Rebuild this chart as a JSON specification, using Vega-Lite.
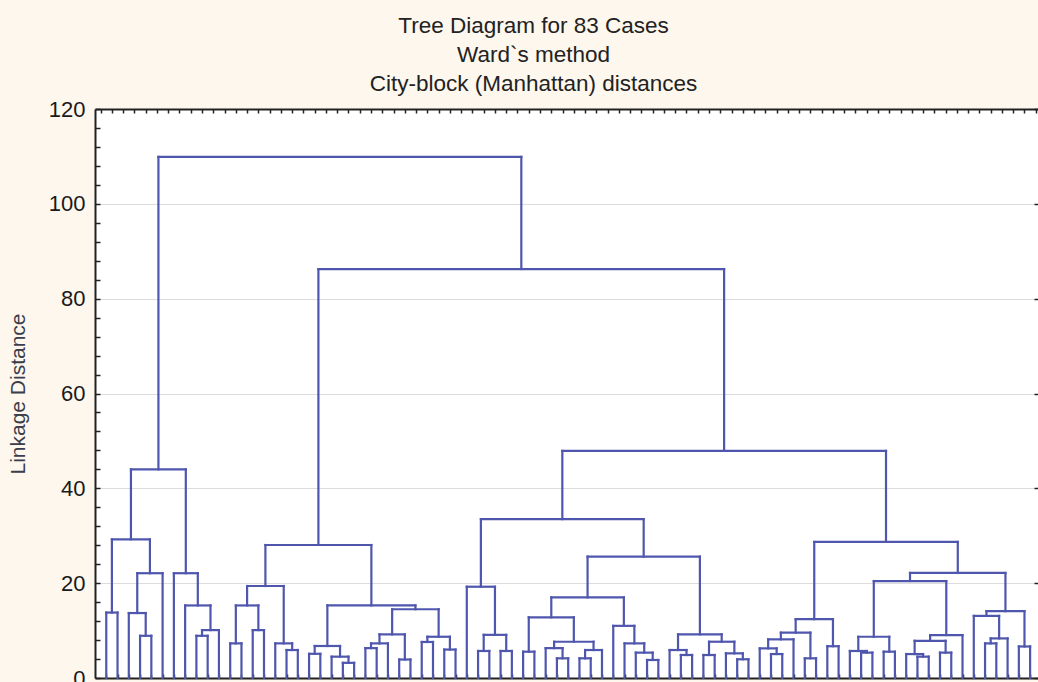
{
  "$schema": "https://vega.github.io/schema/vega-lite/v6.json",
  "width": 943,
  "height": 569,
  "autosize": {"type": "none"},
  "padding": {"left": 95, "top": 109, "right": 0, "bottom": 4},
  "background": "#fdf7ed",
  "config": {
    "view": {"fill": "white", "stroke": null},
    "axis": {"labelFont": "Liberation Sans", "titleFont": "Liberation Sans"}
  },
  "title": {
    "text": ["Tree Diagram for 83 Cases", "Ward`s method", "City-block (Manhattan) distances"],
    "font": "Liberation Sans",
    "fontSize": 22.5,
    "fontWeight": "normal",
    "color": "#222222",
    "lineHeight": 29,
    "anchor": "middle",
    "frame": "group",
    "dx": -33,
    "offset": 3
  },
  "data": {
    "values": [
      {"xl":1,"xr":2,"hl":0,"hr":0,"h":13.8},
      {"xl":4,"xr":5,"hl":0,"hr":0,"h":8.9},
      {"xl":3,"xr":4.5,"hl":0,"hr":8.9,"h":13.7},
      {"xl":3.75,"xr":6,"hl":13.7,"hr":0,"h":22.1},
      {"xl":1.5,"xr":4.875,"hl":13.8,"hr":22.1,"h":29.25},
      {"xl":9,"xr":10,"hl":0,"hr":0,"h":8.9},
      {"xl":9.5,"xr":11,"hl":8.9,"hr":0,"h":10.1},
      {"xl":8,"xr":10.25,"hl":0,"hr":10.1,"h":15.3},
      {"xl":7,"xr":9.125,"hl":0,"hr":15.3,"h":22.1},
      {"xl":3.19,"xr":8.06,"hl":29.25,"hr":22.1,"h":44.0},
      {"xl":12,"xr":13,"hl":0,"hr":0,"h":7.3},
      {"xl":14,"xr":15,"hl":0,"hr":0,"h":10.1},
      {"xl":12.5,"xr":14.5,"hl":7.3,"hr":10.1,"h":15.3},
      {"xl":17,"xr":18,"hl":0,"hr":0,"h":5.9},
      {"xl":16,"xr":17.5,"hl":0,"hr":5.9,"h":7.3},
      {"xl":13.5,"xr":16.75,"hl":15.3,"hr":7.3,"h":19.4},
      {"xl":19,"xr":20,"hl":0,"hr":0,"h":5.1},
      {"xl":22,"xr":23,"hl":0,"hr":0,"h":3.2},
      {"xl":21,"xr":22.5,"hl":0,"hr":3.2,"h":4.5},
      {"xl":19.5,"xr":21.75,"hl":5.1,"hr":4.5,"h":6.75},
      {"xl":24,"xr":25,"hl":0,"hr":0,"h":6.3},
      {"xl":24.5,"xr":26,"hl":6.3,"hr":0,"h":7.3},
      {"xl":27,"xr":28,"hl":0,"hr":0,"h":3.9},
      {"xl":25.25,"xr":27.5,"hl":7.3,"hr":3.9,"h":9.2},
      {"xl":29,"xr":30,"hl":0,"hr":0,"h":7.6},
      {"xl":31,"xr":32,"hl":0,"hr":0,"h":6.0},
      {"xl":29.5,"xr":31.5,"hl":7.6,"hr":6.0,"h":8.7},
      {"xl":26.375,"xr":30.5,"hl":9.2,"hr":8.7,"h":14.5},
      {"xl":20.625,"xr":28.44,"hl":6.75,"hr":14.5,"h":15.3},
      {"xl":15.125,"xr":24.53,"hl":19.4,"hr":15.3,"h":28.05},
      {"xl":34,"xr":35,"hl":0,"hr":0,"h":5.7},
      {"xl":36,"xr":37,"hl":0,"hr":0,"h":5.7},
      {"xl":34.5,"xr":36.5,"hl":5.7,"hr":5.7,"h":9.1},
      {"xl":33,"xr":35.5,"hl":0,"hr":9.1,"h":19.25},
      {"xl":38,"xr":39,"hl":0,"hr":0,"h":5.55},
      {"xl":41,"xr":42,"hl":0,"hr":0,"h":4.15},
      {"xl":40,"xr":41.5,"hl":0,"hr":4.15,"h":6.3},
      {"xl":43,"xr":44,"hl":0,"hr":0,"h":4.15},
      {"xl":43.5,"xr":45,"hl":4.15,"hr":0,"h":5.9},
      {"xl":40.75,"xr":44.25,"hl":6.3,"hr":5.9,"h":7.65},
      {"xl":38.5,"xr":42.5,"hl":5.55,"hr":7.65,"h":12.8},
      {"xl":49,"xr":50,"hl":0,"hr":0,"h":3.8},
      {"xl":48,"xr":49.5,"hl":0,"hr":3.8,"h":5.35},
      {"xl":47,"xr":48.75,"hl":0,"hr":5.35,"h":7.3},
      {"xl":46,"xr":47.875,"hl":0,"hr":7.3,"h":11.0},
      {"xl":40.5,"xr":46.94,"hl":12.8,"hr":11.0,"h":17.0},
      {"xl":52,"xr":53,"hl":0,"hr":0,"h":4.85},
      {"xl":51,"xr":52.5,"hl":0,"hr":4.85,"h":5.9},
      {"xl":54,"xr":55,"hl":0,"hr":0,"h":4.85},
      {"xl":57,"xr":58,"hl":0,"hr":0,"h":3.95},
      {"xl":56,"xr":57.5,"hl":0,"hr":3.95,"h":5.2},
      {"xl":54.5,"xr":56.75,"hl":4.85,"hr":5.2,"h":7.65},
      {"xl":51.75,"xr":55.625,"hl":5.9,"hr":7.65,"h":9.2},
      {"xl":43.72,"xr":53.69,"hl":17.0,"hr":9.2,"h":25.6},
      {"xl":34.25,"xr":48.7,"hl":19.25,"hr":25.6,"h":33.5},
      {"xl":60,"xr":61,"hl":0,"hr":0,"h":5.05},
      {"xl":59,"xr":60.5,"hl":0,"hr":5.05,"h":6.25},
      {"xl":59.75,"xr":62,"hl":6.25,"hr":0,"h":8.15},
      {"xl":63,"xr":64,"hl":0,"hr":0,"h":4.15},
      {"xl":60.875,"xr":63.5,"hl":8.15,"hr":4.15,"h":9.55},
      {"xl":65,"xr":66,"hl":0,"hr":0,"h":6.7},
      {"xl":62.19,"xr":65.5,"hl":9.55,"hr":6.7,"h":12.4},
      {"xl":68,"xr":69,"hl":0,"hr":0,"h":5.35},
      {"xl":67,"xr":68.5,"hl":0,"hr":5.35,"h":5.7},
      {"xl":70,"xr":71,"hl":0,"hr":0,"h":5.55},
      {"xl":67.75,"xr":70.5,"hl":5.7,"hr":5.55,"h":8.7},
      {"xl":73,"xr":74,"hl":0,"hr":0,"h":4.5},
      {"xl":72,"xr":73.5,"hl":0,"hr":4.5,"h":5.05},
      {"xl":75,"xr":76,"hl":0,"hr":0,"h":5.35},
      {"xl":72.75,"xr":75.5,"hl":5.05,"hr":5.35,"h":7.85},
      {"xl":74.125,"xr":77,"hl":7.85,"hr":0,"h":9.05},
      {"xl":69.125,"xr":75.56,"hl":8.7,"hr":9.05,"h":20.45},
      {"xl":79,"xr":80,"hl":0,"hr":0,"h":7.3},
      {"xl":79.5,"xr":81,"hl":7.3,"hr":0,"h":8.35},
      {"xl":78,"xr":80.25,"hl":0,"hr":8.35,"h":13.1},
      {"xl":82,"xr":83,"hl":0,"hr":0,"h":6.65},
      {"xl":79.125,"xr":82.5,"hl":13.1,"hr":6.65,"h":14.1},
      {"xl":72.34,"xr":80.81,"hl":20.45,"hr":14.1,"h":22.15},
      {"xl":63.84,"xr":76.58,"hl":12.4,"hr":22.15,"h":28.7},
      {"xl":41.48,"xr":70.21,"hl":33.5,"hr":28.7,"h":47.9},
      {"xl":19.83,"xr":55.84,"hl":28.05,"hr":47.9,"h":86.25},
      {"xl":5.63,"xr":37.84,"hl":44.0,"hr":86.25,"h":109.9}
    ]
  },
  "resolve": {"axis": {"x": "independent", "y": "independent"}},
  "layer": [
    {
      "mark": {"type": "rule", "color": "#4f56ad", "strokeWidth": 2.2, "strokeCap": "square"},
      "encoding": {
        "x": {
          "field": "xl", "type": "quantitative",
          "scale": {"domain": [0, 83.7], "nice": false, "zero": false},
          "axis": {
            "orient": "bottom", "title": null, "labels": false, "grid": false,
            "values": [1,2,3,4,5,6,7,8,9,10,11,12,13,14,15,16,17,18,19,20,21,22,23,24,25,26,27,28,29,30,31,32,33,34,35,36,37,38,39,40,41,42,43,44,45,46,47,48,49,50,51,52,53,54,55,56,57,58,59,60,61,62,63,64,65,66,67,68,69,70,71,72,73,74,75,76,77,78,79,80,81,82,83],
            "tickSize": -4, "tickColor": "#222222", "tickWidth": 1.5,
            "domainColor": "#222222", "domainWidth": 2
          }
        },
        "y": {
          "field": "hl", "type": "quantitative",
          "scale": {"domain": [0, 120], "nice": false, "zero": true},
          "axis": {
            "orient": "left",
            "title": "Linkage Distance",
            "titleFontSize": 21, "titleFontWeight": "normal", "titleColor": "#3a3d4a", "titlePadding": 20,
            "values": [0,4,8,12,16,20,24,28,32,36,40,44,48,52,56,60,64,68,72,76,80,84,88,92,96,100,104,108,112,116,120],
            "labelExpr": "datum.value % 20 === 0 ? datum.label : ''",
            "labelFontSize": 22, "labelColor": "#1a1a1a", "labelPadding": 15,
            "tickSize": -5, "tickColor": "#222222", "tickWidth": 1.5,
            "domainColor": "#222222", "domainWidth": 2,
            "grid": true, "gridColor": "#dcdcdc", "gridWidth": 1,
            "gridOpacity": {"condition": {"test": "datum.value % 20 === 0 && datum.value > 0 && datum.value < 120", "value": 1}, "value": 0}
          }
        },
        "y2": {"field": "h"}
      }
    },
    {
      "mark": {"type": "rule", "color": "#4f56ad", "strokeWidth": 2.2, "strokeCap": "square"},
      "encoding": {
        "x": {
          "field": "xr", "type": "quantitative",
          "axis": {
            "orient": "top", "title": null, "labels": false, "grid": false,
            "values": [0.5,1.5,2.5,3.5,4.5,5.5,6.5,7.5,8.5,9.5,10.5,11.5,12.5,13.5,14.5,15.5,16.5,17.5,18.5,19.5,20.5,21.5,22.5,23.5,24.5,25.5,26.5,27.5,28.5,29.5,30.5,31.5,32.5,33.5,34.5,35.5,36.5,37.5,38.5,39.5,40.5,41.5,42.5,43.5,44.5,45.5,46.5,47.5,48.5,49.5,50.5,51.5,52.5,53.5,54.5,55.5,56.5,57.5,58.5,59.5,60.5,61.5,62.5,63.5,64.5,65.5,66.5,67.5,68.5,69.5,70.5,71.5,72.5,73.5,74.5,75.5,76.5,77.5,78.5,79.5,80.5,81.5,82.5,83.5],
            "tickSize": -4, "tickColor": "#222222", "tickWidth": 1.5,
            "domainColor": "#222222", "domainWidth": 2
          }
        },
        "y": {"field": "hr", "type": "quantitative", "axis": null},
        "y2": {"field": "h"}
      }
    },
    {
      "mark": {"type": "rule", "color": "#4f56ad", "strokeWidth": 2.2, "strokeCap": "square"},
      "encoding": {
        "x": {"field": "xl", "type": "quantitative", "axis": null},
        "x2": {"field": "xr"},
        "y": {
          "field": "h", "type": "quantitative",
          "axis": {
            "orient": "right", "title": null, "labels": false, "grid": false, "domain": false,
            "values": [0,20,40,60,80,100,120],
            "tickSize": -4, "tickColor": "#222222", "tickWidth": 1.5
          }
        }
      }
    }
  ]
}
